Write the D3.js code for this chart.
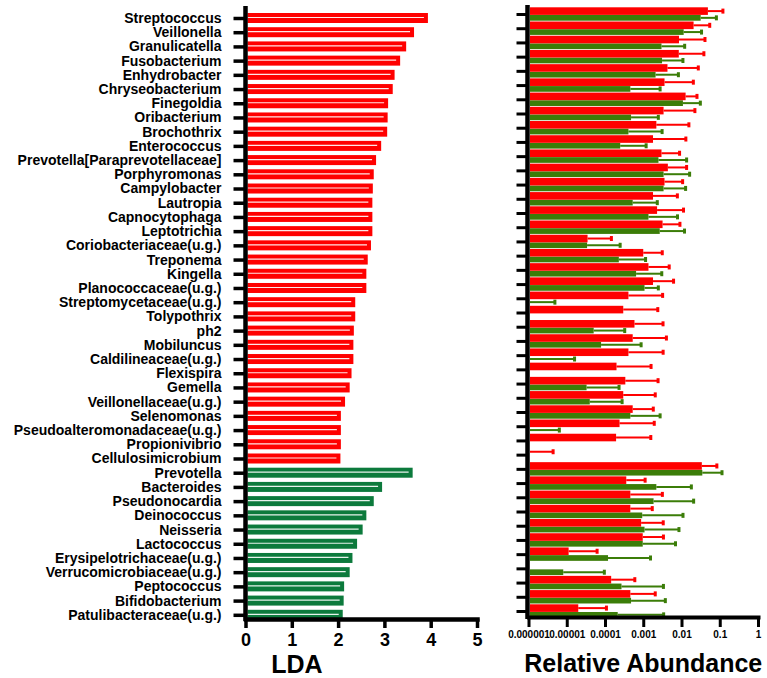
<!DOCTYPE html>
<html>
<head>
<meta charset="utf-8">
<script src="https://cdn.jsdelivr.net/npm/d3@7"></script>
<style>
body { margin: 0; background: #fff; }
text { font-family: "Liberation Sans", Arial, sans-serif; font-weight: bold; }
</style>
</head>
<body>
<svg id="chart" width="767" height="678"></svg>
<script>
// taxa, top to bottom; the first 32 are enriched in the red group
var taxa = ["Streptococcus", "Veillonella", "Granulicatella", "Fusobacterium", "Enhydrobacter",
    "Chryseobacterium", "Finegoldia", "Oribacterium", "Brochothrix", "Enterococcus",
    "Prevotella[Paraprevotellaceae]", "Porphyromonas", "Campylobacter", "Lautropia",
    "Capnocytophaga", "Leptotrichia", "Coriobacteriaceae(u.g.)", "Treponema", "Kingella",
    "Planococcaceae(u.g.)", "Streptomycetaceae(u.g.)", "Tolypothrix", "ph2", "Mobiluncus",
    "Caldilineaceae(u.g.)", "Flexispira", "Gemella", "Veillonellaceae(u.g.)", "Selenomonas",
    "Pseudoalteromonadaceae(u.g.)", "Propionivibrio", "Cellulosimicrobium",
    "Prevotella", "Bacteroides", "Pseudonocardia", "Deinococcus", "Neisseria", "Lactococcus",
    "Erysipelotrichaceae(u.g.)", "Verrucomicrobiaceae(u.g.)", "Peptococcus", "Bifidobacterium",
    "Patulibacteraceae(u.g.)"];
var nRed = 32;

var lda = [3.94, 3.64, 3.47, 3.34, 3.22, 3.18, 3.08, 3.07, 3.06, 2.93,
    2.82, 2.77, 2.75, 2.74, 2.74, 2.74, 2.71, 2.64, 2.61, 2.61,
    2.37, 2.37, 2.34, 2.33, 2.33, 2.29, 2.25, 2.15, 2.06, 2.06,
    2.06, 2.05, 3.61, 2.95, 2.77, 2.61, 2.53, 2.41, 2.31, 2.25,
    2.13, 2.12, 2.10];

// relative abundance, mean and SD
var redMean = [0.049, 0.0207, 0.0086, 0.0085, 0.0043, 0.0036, 0.0128, 0.0034, 0.0022, 0.0018,
    0.0030, 0.0044, 0.0036, 0.0018, 0.0023, 0.0032, 0.000035, 0.0010, 0.00137, 0.0018,
    0.00041, 0.0003, 0.00059, 0.00053, 0.00041, 0.0002, 0.00034, 0.0003, 0.00053, 0.00024,
    0.000195, 0, 0.034, 0.00036, 0.00046, 0.00046, 0.00088, 0.00097, 0.0000112, 0,
    0.000145, 0.00046, 0.00002];
var redSd = [0.072, 0.034, 0.0325, 0.030, 0.0232, 0.0168, 0.0126, 0.019, 0.0134, 0.0112,
    0.0059, 0.0092, 0.0071, 0.006, 0.009, 0.0059, 0.000112, 0.00214, 0.0034, 0.0044,
    0.0028, 0.0021, 0.0027, 0.0035, 0.0029, 0.0014, 0.0021, 0.00176, 0.0013, 0.0017,
    0.00138, 0.0000044, 0.050, 0.00076, 0.0027, 0.00126, 0.00245, 0.0024, 0.000051, 0,
    0.000457, 0.0016, 0.000089];
var greenMean = [0.0317, 0.0114, 0.0030, 0.0031, 0.0021, 0.00046, 0.0109, 0.00048, 0.00041, 0.00025,
    0.0025, 0.0034, 0.0034, 0.00053, 0.00137, 0.0027, 0.000034, 0.00023, 0.00065, 0.00108,
    0, 0, 0.0000506, 0.000079, 0, 0, 0.000033, 0.00004, 0.00046, 0,
    0, 0, 0.035, 0.0022, 0.00186, 0.00094, 0.00108, 0.00097, 0.00012, 0.0000081,
    0.00027, 0.00048, 0.000215];
var greenSd = [0.050, 0.022, 0.0091, 0.0078, 0.0062, 0.0023, 0.0202, 0.0020, 0.0027, 0.00094,
    0.0111, 0.0129, 0.0094, 0.0018, 0.0065, 0.0093, 0.000215, 0.00092, 0.0024, 0.0014,
    0.0000049, 0, 0.000277, 0.0008, 0.000016, 0, 0.0002, 0.00024, 0.0023, 0.0000064,
    0, 0, 0.0795, 0.0159, 0.0189, 0.0100, 0.0075, 0.006, 0.00143, 0.000088,
    0.0031, 0.0033, 0.0032];

var ldaTicks = [0, 1, 2, 3, 4, 5];
var abundTicks = [1e-6, 1e-5, 1e-4, 1e-3, 1e-2, 1e-1, 1];
var abundLabels = ["0.000001", "0.00001", "0.0001", "0.001", "0.01", "0.1", "1"];

var RED = "#ff0000";
var GREEN_LDA = "#0c7a3c";
var GREEN_AB = "#3b7d08";

var svg = d3.select("#chart");

var yL = d3.scalePoint().domain(taxa).range([18, 614.8]);
var yR = d3.scalePoint().domain(taxa).range([14, 611]);
var xL = d3.scaleLinear().domain([0, 5]).range([245.5, 477]);
var xR = d3.scaleLog().domain([1e-6, 1]).range([528.5, 758]);

// ---- left panel: LDA bars
var bars = svg.append("g").attr("id", "lda-bars");
taxa.forEach(function (t, i) {
    var col = i < nRed ? RED : GREEN_LDA;
    bars.append("rect")
        .attr("x", xL(0) + 2)
        .attr("y", yL(t) - 5)
        .attr("width", xL(lda[i]) - xL(0) - 2)
        .attr("height", 10)
        .attr("fill", col);
    bars.append("line")
        .attr("x1", xL(0) + 2)
        .attr("x2", xL(lda[i]) - 4)
        .attr("y1", yL(t) - 0.5)
        .attr("y2", yL(t) - 0.5)
        .attr("stroke", "#fff")
        .attr("stroke-opacity", 0.9)
        .attr("stroke-width", 1.2);
});

var yAxisL = svg.append("g")
    .attr("transform", "translate(" + xL(0) + ",0)")
    .call(d3.axisLeft(yL).tickSize(12).tickPadding(12).tickSizeOuter(0));
yAxisL.select(".domain").remove();
yAxisL.selectAll(".tick line").attr("stroke-width", 3.5);
yAxisL.selectAll(".tick text").style("font-size", "14px").attr("fill", "#000");
svg.append("line")
    .attr("x1", xL(0)).attr("x2", xL(0))
    .attr("y1", 6).attr("y2", 621)
    .attr("stroke", "#000").attr("stroke-width", 4.5);

var xAxisL = svg.append("g")
    .attr("transform", "translate(0,619)")
    .call(d3.axisBottom(xL).tickValues(ldaTicks).tickFormat(d3.format("d"))
        .tickSize(9).tickPadding(5).tickSizeOuter(0));
xAxisL.select(".domain").attr("stroke-width", 4.5).attr("stroke-linecap", "square");
xAxisL.selectAll(".tick line").attr("stroke-width", 3.5);
xAxisL.selectAll(".tick text").style("font-size", "18px").attr("fill", "#000");

svg.append("text")
    .attr("x", 297).attr("y", 672.5)
    .attr("text-anchor", "middle")
    .style("font-size", "25px")
    .text("LDA");

// ---- right panel: relative abundance
var ab = svg.append("g").attr("id", "abundance");
var x0 = xR.range()[0] + 1.5;

function drawSeries(means, sds, col, top, h) {
    taxa.forEach(function (t, i) {
        var m = means[i];
        var cy = yR(t) + top + h / 2;
        if (m > 1e-6) {
            ab.append("rect")
                .attr("x", x0)
                .attr("y", yR(t) + top)
                .attr("width", xR(m) - x0)
                .attr("height", h)
                .attr("fill", col);
        }
        if (sds[i] > 0) {
            var xs = m > 1e-6 ? xR(m) : x0;
            var xe = xR(m + sds[i]);
            ab.append("line")
                .attr("x1", xs).attr("x2", xe)
                .attr("y1", cy).attr("y2", cy)
                .attr("stroke", col).attr("stroke-width", 2);
            ab.append("line")
                .attr("x1", xe).attr("x2", xe)
                .attr("y1", cy - 2.5).attr("y2", cy + 2.5)
                .attr("stroke", col).attr("stroke-width", 3);
        }
    });
}
drawSeries(greenMean, greenSd, GREEN_AB, 1, 5.7);
drawSeries(redMean, redSd, RED, -6.7, 7.6);

var yAxisR = svg.append("g")
    .attr("transform", "translate(" + (xR.range()[0] - 1) + ",0)")
    .call(d3.axisLeft(yR).tickSize(11).tickFormat("").tickSizeOuter(0));
yAxisR.select(".domain").remove();
yAxisR.selectAll(".tick line").attr("stroke-width", 3);
svg.append("line")
    .attr("x1", xR.range()[0] - 1).attr("x2", xR.range()[0] - 1)
    .attr("y1", 5).attr("y2", 619)
    .attr("stroke", "#000").attr("stroke-width", 4.5);

var xAxisR = svg.append("g")
    .attr("transform", "translate(0,617)")
    .call(d3.axisBottom(xR).tickValues(abundTicks)
        .tickFormat(function (d, i) { return abundLabels[i]; })
        .tickSize(10).tickPadding(4).tickSizeOuter(0));
xAxisR.select(".domain").attr("stroke-width", 4).attr("stroke-linecap", "square");
xAxisR.selectAll(".tick line").attr("stroke-width", 3);
xAxisR.selectAll(".tick text").style("font-size", "10px").attr("fill", "#000");

svg.append("text")
    .attr("x", (xR.range()[0] + xR.range()[1]) / 2).attr("y", 672)
    .attr("text-anchor", "middle")
    .style("font-size", "25px")
    .text("Relative Abundance");
</script>
</body>
</html>
